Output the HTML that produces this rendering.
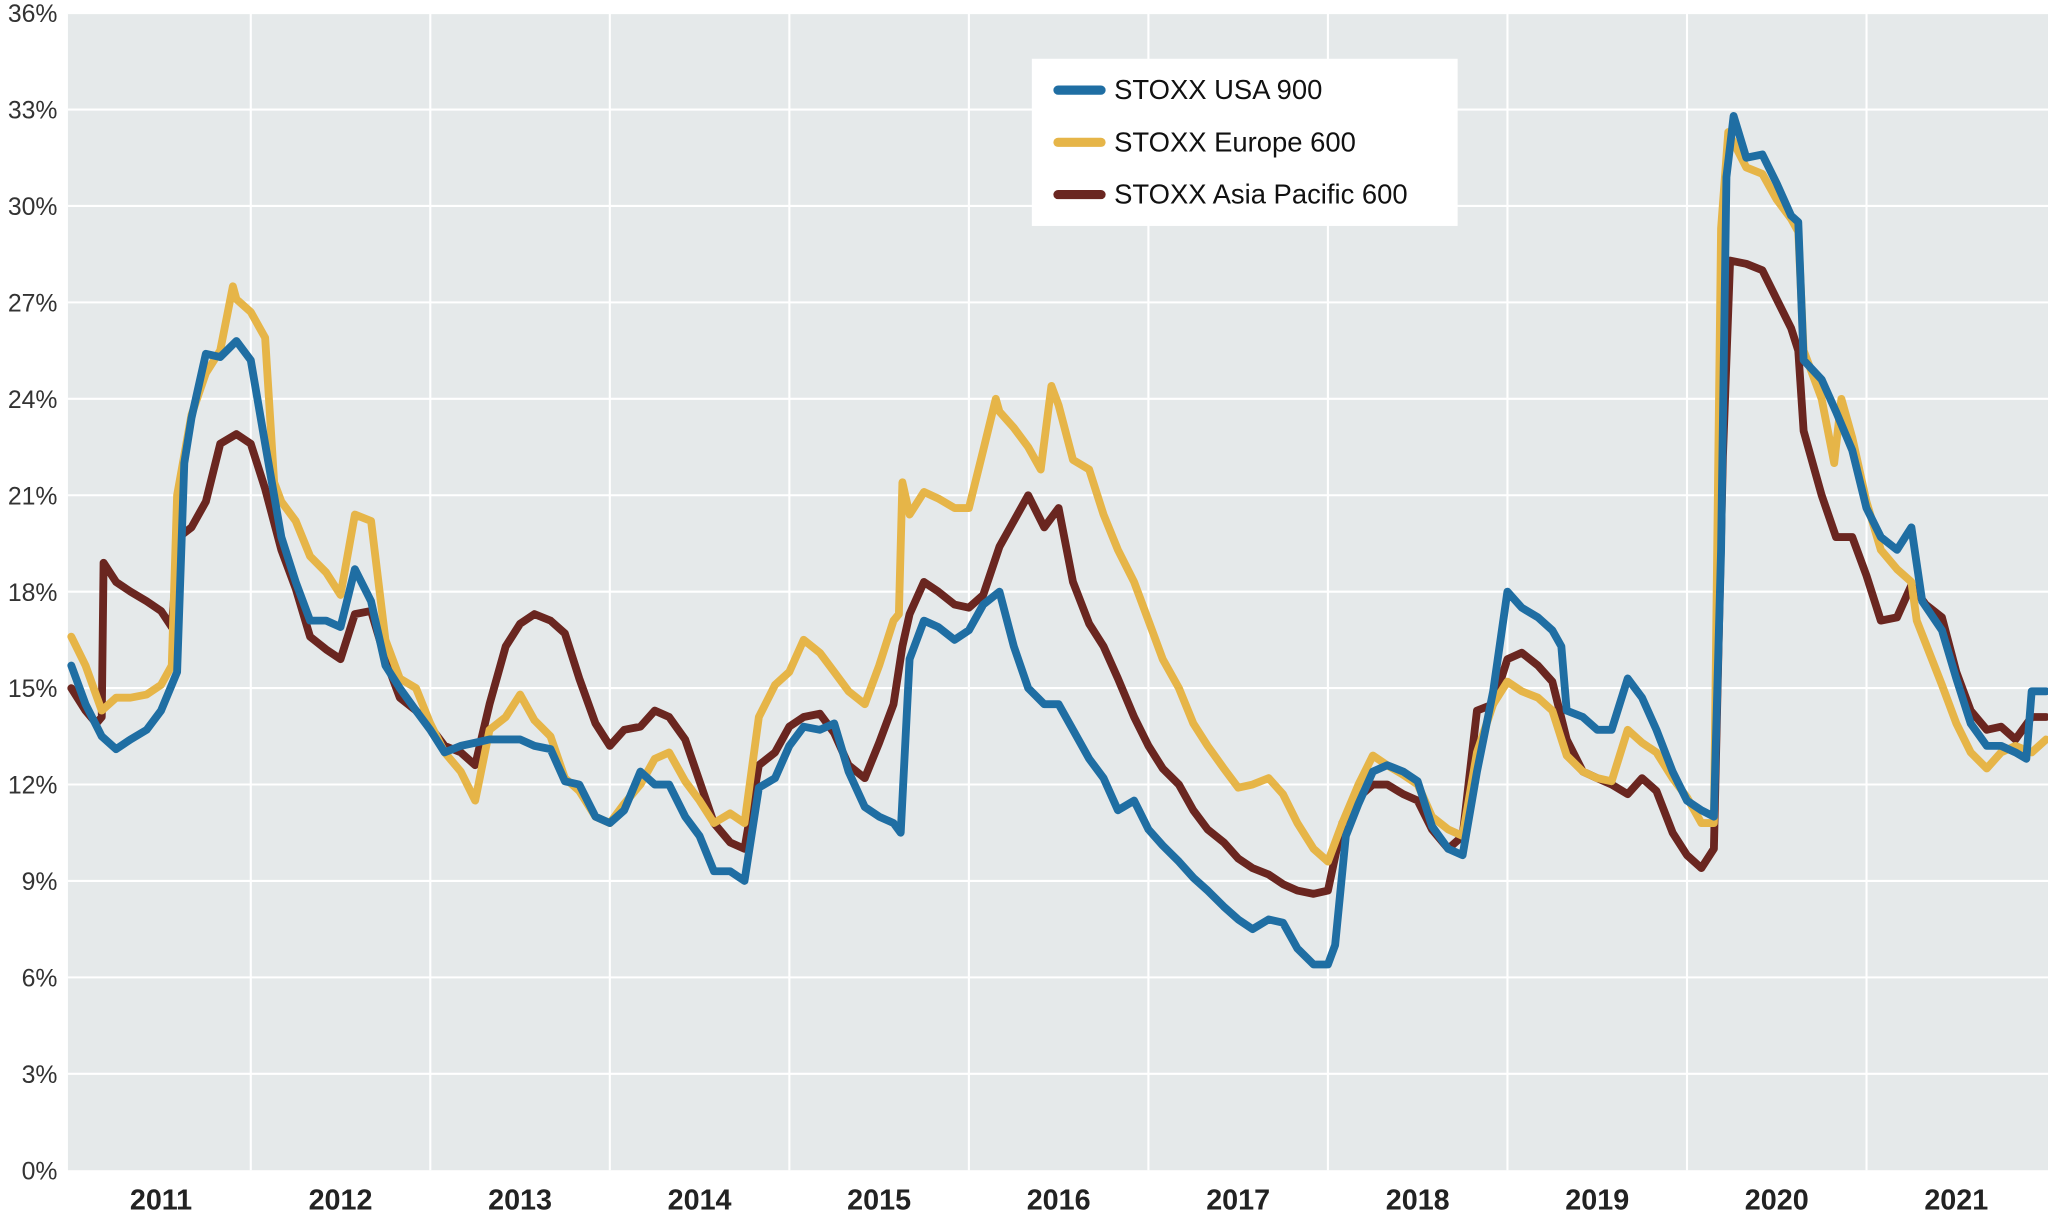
<!DOCTYPE html>
<html><head><meta charset="utf-8"><style>
html,body{margin:0;padding:0;background:#fff;}
svg{display:block;font-family:"Liberation Sans","DejaVu Sans",sans-serif;}
</style></head><body>
<svg id="chart" width="2048" height="1212" viewBox="0 0 1568 928" preserveAspectRatio="none" xmlns="http://www.w3.org/2000/svg">
<rect x="52" y="10" width="1516" height="886" fill="#e5e9ea"/>
<g id="grid"></g>
<g id="yaxis"></g>
<g id="xaxis"></g>
<g id="series"></g>
<g>
<rect x="790" y="45" width="326" height="128" fill="#fff"/>
<line x1="810" y1="69" x2="843" y2="69" stroke="#1f6ea3" stroke-width="7" stroke-linecap="round"/>
<text x="853" y="76" font-size="21" fill="#111">STOXX USA 900</text>
<line x1="810" y1="109" x2="843" y2="109" stroke="#e6b548" stroke-width="7" stroke-linecap="round"/>
<text x="853" y="116" font-size="21" fill="#111">STOXX Europe 600</text>
<line x1="810" y1="149" x2="843" y2="149" stroke="#6a2620" stroke-width="7" stroke-linecap="round"/>
<text x="853" y="156" font-size="21" fill="#111">STOXX Asia Pacific 600</text>
</g>
</svg>
<script>
const yTicks = [0,3,6,9,12,15,18,21,24,27,30,33,36];
const yearLabels = [2011,2012,2013,2014,2015,2016,2017,2018,2019,2020,2021];

const usaDates = [2011.00,2011.08,2011.17,2011.25,2011.33,2011.42,2011.50,2011.59,2011.63,2011.67,2011.75,2011.83,2011.92,
2012.00,2012.08,2012.17,2012.25,2012.33,2012.42,2012.50,2012.58,2012.67,2012.75,2012.83,2012.92,
2013.00,2013.08,2013.17,2013.25,2013.33,2013.42,2013.50,2013.58,2013.67,2013.75,2013.83,2013.92,
2014.00,2014.08,2014.17,2014.25,2014.33,2014.42,2014.50,2014.58,2014.67,2014.75,2014.83,2014.92,
2015.00,2015.08,2015.17,2015.25,2015.33,2015.42,2015.50,2015.58,2015.62,2015.67,2015.75,2015.83,2015.92,
2016.00,2016.08,2016.17,2016.25,2016.33,2016.42,2016.50,2016.58,2016.67,2016.75,2016.83,2016.92,
2017.00,2017.08,2017.17,2017.25,2017.33,2017.42,2017.50,2017.58,2017.67,2017.75,2017.83,2017.92,
2018.00,2018.04,2018.10,2018.17,2018.25,2018.33,2018.42,2018.50,2018.58,2018.67,2018.75,2018.83,2018.92,
2019.00,2019.08,2019.17,2019.25,2019.30,2019.33,2019.42,2019.50,2019.58,2019.67,2019.75,2019.83,2019.92,
2020.00,2020.08,2020.15,2020.19,2020.22,2020.26,2020.33,2020.42,2020.50,2020.58,2020.62,2020.65,2020.75,2020.83,2020.92,
2021.00,2021.08,2021.17,2021.25,2021.31,2021.42,2021.50,2021.58,2021.67,2021.75,2021.83,2021.89,2021.92,2022.00];
const usaValues = [15.7,14.5,13.5,13.1,13.4,13.7,14.3,15.5,22.0,23.4,25.4,25.3,25.8,
25.2,22.6,19.7,18.3,17.1,17.1,16.9,18.7,17.7,15.7,15.0,14.3,
13.7,13.0,13.2,13.3,13.4,13.4,13.4,13.2,13.1,12.1,12.0,11.0,
10.8,11.2,12.4,12.0,12.0,11.0,10.4,9.3,9.3,9.0,11.9,12.2,
13.2,13.8,13.7,13.9,12.4,11.3,11.0,10.8,10.5,15.9,17.1,16.9,16.5,
16.8,17.6,18.0,16.3,15.0,14.5,14.5,13.7,12.8,12.2,11.2,11.5,
10.6,10.1,9.6,9.1,8.7,8.2,7.8,7.5,7.8,7.7,6.9,6.4,
6.4,7.0,10.4,11.4,12.4,12.6,12.4,12.1,10.7,10.0,9.8,12.4,14.9,
18.0,17.5,17.2,16.8,16.3,14.3,14.1,13.7,13.7,15.3,14.7,13.7,12.4,
11.5,11.2,11.0,19.3,30.9,32.8,31.5,31.6,30.7,29.7,29.5,25.2,24.6,23.6,22.4,
20.6,19.7,19.3,20.0,17.7,16.8,15.3,13.9,13.2,13.2,13.0,12.8,14.9,14.9];

const europeDates = [2011.00,2011.08,2011.17,2011.25,2011.33,2011.42,2011.50,2011.56,2011.59,2011.67,2011.75,2011.83,2011.90,2011.92,
2012.00,2012.08,2012.13,2012.17,2012.25,2012.33,2012.42,2012.50,2012.58,2012.67,2012.75,2012.83,2012.92,
2013.00,2013.08,2013.17,2013.25,2013.33,2013.42,2013.50,2013.58,2013.67,2013.75,2013.83,2013.92,
2014.00,2014.08,2014.17,2014.25,2014.33,2014.42,2014.50,2014.58,2014.67,2014.75,2014.83,2014.92,
2015.00,2015.08,2015.17,2015.25,2015.33,2015.42,2015.50,2015.58,2015.61,2015.63,2015.67,2015.75,2015.83,2015.92,
2016.00,2016.08,2016.15,2016.17,2016.25,2016.33,2016.40,2016.46,2016.50,2016.58,2016.67,2016.75,2016.83,2016.92,
2017.00,2017.08,2017.17,2017.25,2017.33,2017.42,2017.50,2017.58,2017.67,2017.75,2017.83,2017.92,
2018.00,2018.08,2018.17,2018.25,2018.33,2018.42,2018.50,2018.58,2018.67,2018.75,2018.83,2018.92,
2019.00,2019.08,2019.17,2019.25,2019.33,2019.42,2019.50,2019.58,2019.67,2019.75,2019.83,2019.92,
2020.00,2020.08,2020.15,2020.19,2020.23,2020.33,2020.42,2020.50,2020.58,2020.62,2020.65,2020.75,2020.82,2020.86,2020.92,
2021.00,2021.08,2021.17,2021.25,2021.28,2021.42,2021.50,2021.58,2021.67,2021.75,2021.83,2021.92,2022.00];
const europeValues = [16.6,15.7,14.3,14.7,14.7,14.8,15.1,15.7,21.0,23.5,24.8,25.5,27.5,27.1,
26.7,25.9,21.4,20.8,20.2,19.1,18.6,17.9,20.4,20.2,16.5,15.3,15.0,
13.9,13.0,12.4,11.5,13.7,14.1,14.8,14.0,13.5,12.2,11.8,11.0,
10.8,11.4,12.0,12.8,13.0,12.1,11.5,10.8,11.1,10.8,14.1,15.1,
15.5,16.5,16.1,15.5,14.9,14.5,15.7,17.1,17.3,21.4,20.4,21.1,20.9,20.6,
20.6,22.4,24.0,23.6,23.1,22.5,21.8,24.4,23.8,22.1,21.8,20.4,19.3,18.3,
17.1,15.9,15.0,13.9,13.2,12.5,11.9,12.0,12.2,11.7,10.8,10.0,
9.6,10.8,12.0,12.9,12.6,12.3,12.0,11.0,10.6,10.4,13.0,14.5,
15.2,14.9,14.7,14.3,12.9,12.4,12.2,12.1,13.7,13.3,13.0,12.2,
11.6,10.8,10.8,29.3,32.3,31.2,31.0,30.2,29.6,29.2,25.5,24.0,22.0,24.0,22.8,
20.8,19.3,18.7,18.3,17.1,15.1,13.9,13.0,12.5,13.0,13.2,13.0,13.4];

const asiaDates = [2011.00,2011.08,2011.14,2011.17,2011.18,2011.25,2011.33,2011.42,2011.50,2011.56,2011.60,2011.67,2011.75,2011.83,2011.92,
2012.00,2012.08,2012.17,2012.25,2012.33,2012.42,2012.50,2012.58,2012.67,2012.75,2012.83,2012.92,
2013.00,2013.08,2013.17,2013.25,2013.33,2013.42,2013.50,2013.58,2013.67,2013.75,2013.83,2013.92,
2014.00,2014.08,2014.17,2014.25,2014.33,2014.42,2014.50,2014.58,2014.67,2014.75,2014.83,2014.92,
2015.00,2015.08,2015.17,2015.25,2015.33,2015.42,2015.50,2015.58,2015.63,2015.67,2015.75,2015.83,2015.92,
2016.00,2016.08,2016.17,2016.25,2016.33,2016.42,2016.50,2016.58,2016.67,2016.75,2016.83,2016.92,
2017.00,2017.08,2017.17,2017.25,2017.33,2017.42,2017.50,2017.58,2017.67,2017.75,2017.83,2017.92,
2018.00,2018.08,2018.17,2018.25,2018.33,2018.42,2018.50,2018.58,2018.67,2018.75,2018.83,2018.92,
2019.00,2019.08,2019.17,2019.25,2019.33,2019.42,2019.50,2019.58,2019.67,2019.75,2019.83,2019.92,
2020.00,2020.08,2020.15,2020.20,2020.24,2020.33,2020.42,2020.50,2020.58,2020.62,2020.65,2020.75,2020.83,2020.92,
2021.00,2021.08,2021.17,2021.25,2021.33,2021.42,2021.50,2021.58,2021.67,2021.75,2021.83,2021.92,2022.00];
const asiaValues = [15.0,14.3,13.9,14.1,18.9,18.3,18.0,17.7,17.4,16.9,19.7,20.0,20.8,22.6,22.9,
22.6,21.2,19.3,18.1,16.6,16.2,15.9,17.3,17.4,15.9,14.7,14.3,
13.8,13.2,13.0,12.6,14.5,16.3,17.0,17.3,17.1,16.7,15.3,13.9,
13.2,13.7,13.8,14.3,14.1,13.4,12.1,10.8,10.2,10.0,12.6,13.0,
13.8,14.1,14.2,13.6,12.6,12.2,13.3,14.5,16.3,17.3,18.3,18.0,17.6,
17.5,17.9,19.4,20.2,21.0,20.0,20.6,18.3,17.0,16.3,15.3,14.1,
13.2,12.5,12.0,11.2,10.6,10.2,9.7,9.4,9.2,8.9,8.7,8.6,
8.7,10.8,11.6,12.0,12.0,11.7,11.5,10.6,10.0,10.4,14.3,14.5,
15.9,16.1,15.7,15.2,13.4,12.4,12.2,12.0,11.7,12.2,11.8,10.5,
9.8,9.4,10.0,22.2,28.3,28.2,28.0,27.1,26.2,25.5,23.0,21.0,19.7,19.7,
18.5,17.1,17.2,18.2,17.6,17.2,15.5,14.3,13.7,13.8,13.4,14.1,14.1];

const NS = "http://www.w3.org/2000/svg";
const X0 = 192, PX_PER_YEAR = 137.45, Y0 = 896, PX_PER_PCT = 24.61;
function xScale(t){ return X0 + (t - 2012) * PX_PER_YEAR; }
function yScale(v){ return Y0 - v * PX_PER_PCT; }
function mk(tag, attrs, parent){
  const el = document.createElementNS(NS, tag);
  for (const k in attrs) el.setAttribute(k, attrs[k]);
  parent.appendChild(el);
  return el;
}
const grid = document.getElementById('grid');
const yaxis = document.getElementById('yaxis');
const xaxis = document.getElementById('xaxis');
const seriesG = document.getElementById('series');

yTicks.forEach(v => {
  if (v > 0) {
    const g = mk('line', {x1:52, x2:1568, y1:yScale(v), y2:yScale(v), stroke:'#ffffff', 'stroke-width':1.6}, grid);
    
    
  }
  const t = mk('text', {x:44, y:yScale(v)+7, 'text-anchor':'end', 'font-size':19, fill:'#333'}, yaxis);
  t.textContent = v + '%';
  
  
});
yearLabels.forEach(yr => {
  if (yr > 2011) {
    const g = mk('line', {x1:xScale(yr), x2:xScale(yr), y1:10, y2:896, stroke:'#ffffff', 'stroke-width':1.6}, grid);
    
    
  }
  const t = mk('text', {x:xScale(yr+0.5), y:926, 'text-anchor':'middle', 'font-size':22, 'font-weight':'bold', fill:'#222'}, xaxis);
  t.textContent = yr;
  
  
});

function drawLine(dates, values, color, name){
  let d = '';
  dates.forEach((t,i) => { d += (i ? 'L' : 'M') + xScale(Math.min(t,2022.01)).toFixed(1) + ',' + yScale(values[i]).toFixed(1); });
  const p = mk('path', {d:d, fill:'none', stroke:color, 'stroke-width':6, 'stroke-linejoin':'round', 'stroke-linecap':'round'}, seriesG);
  
  
}
drawLine(asiaDates, asiaValues, '#6a2620', 'asia-pacific-600-line');
drawLine(europeDates, europeValues, '#e6b548', 'europe-600-line');
drawLine(usaDates, usaValues, '#1f6ea3', 'usa-900-line');
</script>
</body></html>
